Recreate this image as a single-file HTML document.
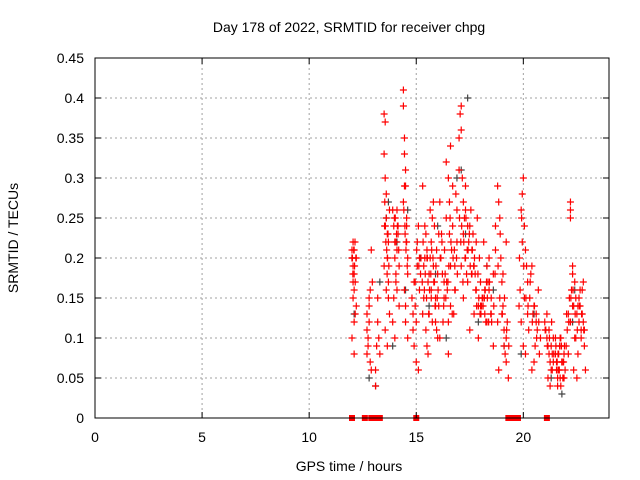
<!DOCTYPE html>
<html><head><meta charset="utf-8"><style>
body{margin:0;background:#fff}
svg{display:block;font-family:"Liberation Sans",sans-serif}
</style></head><body>
<svg id="c" width="640" height="480">
<rect x="0" y="0" width="640" height="480" fill="#fff"/>
<g id="grid"></g>
<g id="pts"></g>
<rect x="95" y="58" width="514" height="360" fill="none" stroke="#000" stroke-width="1"/>
<g id="ticks"></g>
<text x="349" y="32" text-anchor="middle" font-size="14">Day 178 of 2022, SRMTID for receiver chpg</text>
<text x="349" y="471" text-anchor="middle" font-size="14">GPS time / hours</text>
<text x="18" y="238" text-anchor="middle" font-size="14" transform="rotate(-90 18 238)">SRMTID / TECUs</text>
</svg>
<script>
const xTicks=[0,5,10,15,20];
const yTicks=[0,0.05,0.1,0.15,0.2,0.25,0.3,0.35,0.4,0.45];
const yLabels=["0","0.05","0.1","0.15","0.2","0.25","0.3","0.35","0.4","0.45"];
const redT=[12.0,12.0,12.05,12.05,12.1,12.1,12.1,12.15,12.15,12.0,12.05,12.1,12.2,12.2,12.1,12.05,
12.7,12.7,12.75,12.75,12.8,12.8,12.85,12.85,12.9,12.9,12.95,12.7,12.8,
13.1,13.1,13.15,13.2,13.2,13.25,13.3,
13.5,13.5,13.55,13.55,13.6,13.6,13.65,13.65,13.7,13.7,13.75,13.55,13.6,13.5,13.65,13.7,13.75,
13.9,13.95,14.0,14.0,14.05,14.1,14.1,14.15,14.2,14.2,13.9,14.0,14.1,14.15,13.95,14.05,
14.4,14.4,14.45,14.45,14.5,14.5,14.55,14.55,14.6,14.6,14.45,14.5,14.4,14.55,14.6,14.5,14.45,
14.8,14.85,14.9,14.95,15.0,15.05,15.1,15.15,15.2,14.9,15.0,15.1,14.85,15.05,15.15,14.95,
15.3,15.35,15.4,15.45,15.5,15.55,15.6,15.65,15.7,15.75,15.8,15.85,15.9,15.95,16.0,16.05,
15.3,15.4,15.5,15.6,15.7,15.8,15.9,16.0,15.35,15.45,15.55,15.65,15.75,15.85,15.95,16.05,15.5,15.7,15.9,
16.1,16.2,16.3,16.4,16.5,16.6,16.7,16.8,16.9,16.15,16.25,16.35,16.45,16.55,16.65,16.75,16.85,
16.1,16.3,16.5,16.7,16.9,16.4,16.6,16.8,16.5,16.6,16.55,
17.0,17.05,17.1,17.1,17.15,17.2,17.2,17.25,17.3,17.3,17.35,17.4,17.45,17.0,17.1,17.2,17.3,17.4,
17.5,17.6,17.7,17.8,17.9,18.0,18.1,18.2,18.3,18.4,17.55,17.65,17.75,17.85,17.95,18.05,18.15,18.25,18.35,
17.5,17.7,17.9,18.1,18.3,17.6,17.8,18.0,18.2,18.4,18.5,18.6,18.7,18.8,18.5,18.6,18.7,
18.8,18.85,18.9,18.95,19.0,19.05,19.1,19.15,19.2,19.25,18.9,19.0,19.1,19.2,18.85,19.05,19.2,19.3,
19.8,19.85,19.9,19.95,20.0,20.05,20.1,20.15,20.2,19.9,20.0,20.1,20.2,20.25,20.05,19.95,
20.3,20.4,20.5,20.6,20.7,20.8,20.35,20.45,20.55,20.65,20.75,20.4,20.6,20.5,
21.0,21.05,21.1,21.15,21.2,21.25,21.3,21.35,21.4,21.1,21.2,21.3,21.4,21.15,21.25,21.35,
21.5,21.55,21.6,21.65,21.7,21.75,21.8,21.85,21.9,21.95,21.5,21.6,21.7,21.8,21.9,21.55,21.65,21.75,21.85,
22.0,22.05,22.1,22.15,22.2,22.25,22.3,22.35,22.4,22.45,22.5,22.1,22.2,22.3,22.4,22.2,22.2,22.2,22.3,22.45,22.5,22.35,
22.55,22.6,22.65,22.7,22.75,22.8,22.85,22.6,22.7,22.8,22.55,22.65,22.75,22.85,22.9,
12.02,12.08,12.12,12.18,12.04,12.14,13.52,13.58,13.62,13.68,13.72,13.56,13.64,13.53,13.66,
14.02,14.08,14.12,14.18,13.98,14.06,14.42,14.48,14.52,14.58,14.47,14.53,
15.02,15.12,15.22,15.32,15.42,15.52,15.62,15.72,15.82,15.92,16.02,15.28,15.48,15.68,15.88,15.38,15.58,15.78,15.98,
16.12,16.22,16.32,16.42,16.52,16.62,16.72,16.82,16.92,16.18,16.38,16.58,16.78,16.28,16.48,16.68,16.88,
17.02,17.12,17.22,17.32,17.42,17.52,17.62,17.72,17.82,17.92,18.02,18.12,18.22,18.32,18.42,18.52,18.62,
17.08,17.28,17.48,17.68,17.88,18.08,18.28,18.48,18.68,17.18,17.38,17.58,17.78,17.98,18.18,18.38,
18.82,18.92,19.02,19.12,19.22,19.32,19.82,19.92,20.02,20.12,20.22,20.32,20.42,20.52,20.62,20.72,
21.02,21.12,21.22,21.32,21.42,21.52,21.62,21.72,21.82,21.92,21.58,21.68,21.78,21.88,21.62,21.72,
22.02,22.12,22.22,22.32,22.42,22.52,22.62,22.72,22.82];
const redV=[0.21,0.2,0.19,0.22,0.18,0.16,0.21,0.17,0.13,0.1,0.15,0.12,0.2,0.14,0.08,0.17,
0.13,0.11,0.1,0.09,0.12,0.15,0.07,0.16,0.06,0.21,0.17,0.08,0.14,
0.04,0.06,0.09,0.12,0.15,0.1,0.08,
0.38,0.33,0.37,0.3,0.28,0.25,0.23,0.2,0.17,0.15,0.13,0.11,0.16,0.19,0.09,0.22,0.26,
0.26,0.24,0.22,0.2,0.18,0.16,0.26,0.24,0.14,0.19,0.12,0.1,0.21,0.23,0.15,0.17,
0.41,0.39,0.35,0.33,0.29,0.31,0.25,0.22,0.2,0.18,0.16,0.12,0.27,0.24,0.1,0.14,0.29,
0.15,0.13,0.17,0.14,0.12,0.22,0.24,0.2,0.18,0.09,0.07,0.06,0.11,0.19,0.16,0.17,
0.29,0.15,0.24,0.11,0.2,0.17,0.13,0.26,0.22,0.12,0.19,0.24,0.15,0.21,0.18,0.23,
0.13,0.2,0.09,0.18,0.16,0.27,0.14,0.1,0.19,0.23,0.08,0.2,0.25,0.17,0.11,0.14,0.21,0.15,0.12,
0.27,0.22,0.15,0.25,0.3,0.34,0.24,0.19,0.26,0.2,0.12,0.18,0.16,0.23,0.21,0.13,0.28,
0.1,0.17,0.08,0.29,0.22,0.32,0.14,0.16,0.12,0.19,0.27,
0.35,0.38,0.39,0.36,0.3,0.27,0.23,0.25,0.2,0.26,0.18,0.24,0.22,0.31,0.19,0.15,0.29,0.17,
0.24,0.21,0.19,0.16,0.14,0.17,0.15,0.13,0.19,0.16,0.26,0.23,0.18,0.25,0.2,0.14,0.22,0.12,0.17,
0.11,0.13,0.1,0.15,0.12,0.18,0.22,0.14,0.16,0.2,0.13,0.18,0.24,0.12,0.15,0.09,0.21,
0.29,0.27,0.25,0.2,0.17,0.14,0.11,0.08,0.07,0.12,0.15,0.13,0.09,0.1,0.06,0.18,0.22,0.05,
0.14,0.16,0.26,0.28,0.3,0.24,0.21,0.19,0.17,0.12,0.09,0.08,0.13,0.11,0.15,0.22,
0.15,0.19,0.14,0.12,0.16,0.1,0.18,0.13,0.09,0.11,0.08,0.06,0.13,0.07,
0.12,0.11,0.1,0.09,0.08,0.07,0.06,0.08,0.1,0.13,0.11,0.09,0.07,0.05,0.04,0.06,
0.08,0.07,0.05,0.06,0.09,0.04,0.07,0.05,0.08,0.06,0.1,0.04,0.09,0.07,0.05,0.06,0.08,0.1,0.05,
0.09,0.11,0.13,0.15,0.12,0.16,0.19,0.14,0.17,0.1,0.13,0.08,0.12,0.14,0.1,0.27,0.26,0.25,0.18,0.15,0.05,0.06,
0.14,0.12,0.16,0.11,0.13,0.17,0.09,0.15,0.1,0.12,0.08,0.14,0.16,0.11,0.06,
0.2,0.21,0.19,0.2,0.18,0.22,0.24,0.22,0.21,0.23,0.19,0.24,0.18,0.27,0.2,
0.25,0.23,0.24,0.21,0.25,0.22,0.26,0.23,0.21,0.19,0.24,0.22,
0.21,0.19,0.2,0.22,0.18,0.2,0.16,0.21,0.17,0.19,0.16,0.17,0.15,0.18,0.14,0.16,0.13,0.2,0.15,
0.2,0.18,0.21,0.17,0.19,0.22,0.2,0.16,0.18,0.23,0.15,0.25,0.21,0.14,0.17,0.13,0.2,
0.25,0.24,0.22,0.25,0.21,0.19,0.21,0.2,0.14,0.15,0.13,0.14,0.16,0.15,0.17,0.12,0.14,
0.22,0.2,0.23,0.19,0.18,0.15,0.17,0.13,0.18,0.17,0.21,0.18,0.16,0.13,0.15,0.12,
0.19,0.23,0.13,0.15,0.11,0.09,0.2,0.25,0.19,0.15,0.14,0.17,0.12,0.14,0.1,0.12,
0.11,0.09,0.1,0.12,0.08,0.09,0.06,0.05,0.07,0.09,0.07,0.06,0.09,0.07,0.08,0.1,
0.13,0.12,0.15,0.16,0.13,0.11,0.14,0.13,0.11];
const grayT=[12.0,12.1,12.8,13.1,13.3,13.6,13.9,14.1,14.5,14.6,15.2,15.6,16.0,16.4,16.9,17.3,17.4,17.9,18.3,18.6,19.1,19.9,20.5,21.3,21.8,22.3,22.4,13.7,15.9,17.1];
const grayV=[0.2,0.13,0.05,0.04,0.17,0.25,0.09,0.22,0.16,0.26,0.2,0.14,0.24,0.1,0.3,0.23,0.4,0.12,0.19,0.16,0.09,0.08,0.13,0.05,0.03,0.12,0.16,0.27,0.18,0.31];
const zeroT=[12.0,12.6,12.9,13.05,13.3,15.0,19.3,19.45,19.6,19.75,21.1];
const X0=95,X1=609,Y0=418,Y1=58;
const xs=h=>X0+h/24*(X1-X0);
const ys=v=>Y0-v/0.45*(Y0-Y1);
const NS="http://www.w3.org/2000/svg";
const mk=(t,a,p)=>{const e=document.createElementNS(NS,t);for(const k in a)e.setAttribute(k,a[k]);p.appendChild(e);return e;};
const G=document.getElementById('grid'),T=document.getElementById('ticks'),P=document.getElementById('pts');
xTicks.forEach(t=>{const x=xs(t);
 if(t>0){const l=mk('line',{x1:x,x2:x,y1:Y1,y2:Y0,stroke:'#a0a0a0','stroke-dasharray':'2,3'},G);
 
 }
 const tx=mk('text',{x:x,y:442,'text-anchor':'middle','font-size':14},T);tx.textContent=t;
 
 
 mk('line',{x1:x,x2:x,y1:Y0,y2:Y0-6,stroke:'#000'},T);mk('line',{x1:x,x2:x,y1:Y1,y2:Y1+6,stroke:'#000'},T);});
yTicks.forEach((v,i)=>{const y=ys(v);
 if(i>0&&i<yTicks.length-1){const l=mk('line',{x1:X0,x2:X1,y1:y,y2:y,stroke:'#a0a0a0','stroke-dasharray':'2,3'},G);
 
 }
 const tx=mk('text',{x:84,y:y+5,'text-anchor':'end','font-size':14},T);tx.textContent=yLabels[i];
 
 
 mk('line',{x1:X0,x2:X0+6,y1:y,y2:y,stroke:'#000'},T);mk('line',{x1:X1,x2:X1-6,y1:y,y2:y,stroke:'#000'},T);});
function plus(h,v,c,name){const x=xs(h),y=ys(v);
 const p=mk('path',{d:`M${x-3.5},${y}h7M${x},${y-3.5}v7`,stroke:c,'stroke-width':1.2,fill:'none'},P);
 
 }
grayT.forEach((h,i)=>plus(h,grayV[i],'#444','gray-point'));
redT.forEach((h,i)=>plus(h,redV[i],'#f00','red-point'));
zeroT.forEach(h=>{const r=mk('rect',{x:xs(h)-3,y:Y0-3,width:6,height:6,fill:'#f00'},P);
 
 });
</script>
</body></html>
